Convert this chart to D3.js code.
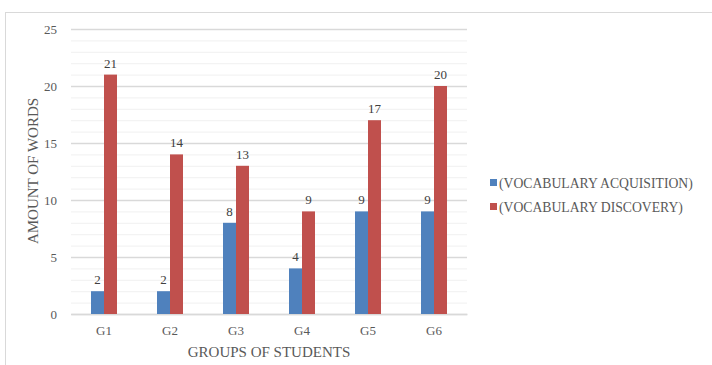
<!DOCTYPE html>
<html>
<head>
<meta charset="utf-8">
<script src="https://cdn.jsdelivr.net/npm/d3@7"></script>
<style>
  body { margin: 0; background: #fff; }
  svg text { font-family: 'Liberation Serif', 'Times New Roman', Times, 'DejaVu Serif', serif !important; }
</style>
</head>
<body>
<svg id="canvas" width="712" height="365"></svg>
<script>
// chart data
const groups = ["G1", "G2", "G3", "G4", "G5", "G6"];
const acquisition = [2, 2, 8, 4, 9, 9];
const discovery = [21, 14, 13, 9, 17, 20];
const seriesNames = ["(VOCABULARY ACQUISITION)", "(VOCABULARY DISCOVERY)"];
const seriesColors = ["#4F81BD", "#C0504D"];
const yTicks = [0, 5, 10, 15, 20, 25];

const svg = d3.select("#canvas");
const m = {left: 71, right: 467, top: 29, bottom: 314};

// outer frame
svg.append("rect")
  .attr("x", 5.5).attr("y", 12.5)
  .attr("width", 720).attr("height", 400)
  .attr("fill", "none").attr("stroke", "#d9d9d9");

const x = d3.scaleBand().domain(groups).range([m.left, m.right]);
const xs = d3.scaleBand().domain([0, 1]).range([0, 26]);
const y = d3.scaleLinear().domain([0, 25]).range([m.bottom, m.top]);

// minor grid
svg.append("g").selectAll("line")
  .data(d3.range(0, 26).filter(d => d % 5 !== 0))
  .join("line")
  .attr("x1", m.left).attr("x2", m.right)
  .attr("y1", d => y(d) + 0.5).attr("y2", d => y(d) + 0.5)
  .attr("stroke", "#f0f0f0");

// major grid + labels
const yAxis = d3.axisLeft(y).tickValues(yTicks).tickSize(-(m.right - m.left)).tickPadding(14);
const ga = svg.append("g").attr("transform", "translate(" + m.left + ",0)").call(yAxis)
  .attr("font-family", null);
ga.select(".domain").remove();
ga.selectAll(".tick line").attr("stroke", "#d9d9d9").attr("stroke-width", 1.3);
ga.selectAll(".tick text").attr("fill", "#595959").style("font-size", "13px");

// x axis labels
const xAxis = d3.axisBottom(x).tickSize(0).tickPadding(12);
const gx = svg.append("g").attr("transform", "translate(0," + m.bottom + ")").call(xAxis)
  .attr("font-family", null);
gx.select(".domain").attr("stroke", "#d9d9d9").attr("stroke-width", 1.3);
gx.selectAll(".tick text").attr("fill", "#595959").style("font-size", "13px");

// bars
const series = [acquisition, discovery];
series.forEach((vals, si) => {
  const g = svg.append("g");
  g.selectAll("rect").data(vals).join("rect")
    .attr("x", (d, i) => x(groups[i]) + x.bandwidth() / 2 - 13 + xs(si))
    .attr("y", d => y(d))
    .attr("width", xs.bandwidth())
    .attr("height", d => y(0) - y(d))
    .attr("fill", seriesColors[si]);
  g.selectAll("text").data(vals).join("text")
    .attr("x", (d, i) => x(groups[i]) + x.bandwidth() / 2 - 13 + xs(si) + xs.bandwidth() / 2)
    .attr("y", d => y(d) - 7)
    .attr("text-anchor", "middle")
    .attr("fill", "#404040")
    .style("font-size", "13px")
    .text(d => d);
});

// axis titles
svg.append("text")
  .attr("transform", "translate(38,171) rotate(-90)")
  .attr("text-anchor", "middle")
  .attr("fill", "#595959")
  .style("font-size", "15px")
  .text("AMOUNT OF WORDS");

svg.append("text")
  .attr("x", 269).attr("y", 357)
  .attr("text-anchor", "middle")
  .attr("fill", "#595959")
  .style("font-size", "15px")
  .text("GROUPS OF STUDENTS");

// legend
const lg = svg.append("g").selectAll("g").data(seriesNames).join("g")
  .attr("transform", (d, i) => "translate(490," + (183 + i * 24) + ")");
lg.append("rect").attr("x", 0).attr("y", -4).attr("width", 7).attr("height", 7)
  .attr("fill", (d, i) => seriesColors[i]);
lg.append("text").attr("x", 9).attr("y", 4.5)
  .attr("fill", "#595959").style("font-size", "13.7px")
  .text(d => d);
</script>
</body>
</html>
